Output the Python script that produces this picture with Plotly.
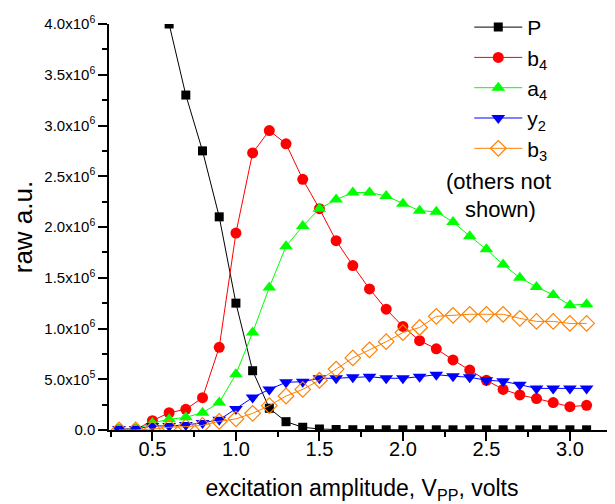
import plotly.graph_objects as go

x_all = [0.3, 0.4, 0.5, 0.6, 0.7, 0.8, 0.9, 1.0, 1.1, 1.2, 1.3, 1.4, 1.5, 1.6, 1.7,
         1.8, 1.9, 2.0, 2.1, 2.2, 2.3, 2.4, 2.5, 2.6, 2.7, 2.8, 2.9, 3.0, 3.1]

x_P = x_all[3:]
P = [4.0e6, 3.30e6, 2.75e6, 2.10e6, 1.25e6, 0.584e6, 0.214e6, 0.082e6, 0.027e6, 0.01e6,
     0.005e6, 0.003e6, 0.002e6, 0.002e6, 0.002e6, 0.002e6, 0.002e6, 0.002e6, 0.002e6,
     0.002e6, 0.002e6, 0.002e6, 0.002e6, 0.002e6, 0.002e6, 0.002e6]

b4 = [0.005e6, 0.005e6, 0.092e6, 0.17e6, 0.204e6, 0.318e6, 0.815e6, 1.94e6, 2.73e6, 2.95e6,
      2.82e6, 2.47e6, 2.18e6, 1.865e6, 1.62e6, 1.39e6, 1.19e6, 1.02e6, 0.88e6, 0.80e6,
      0.69e6, 0.59e6, 0.49e6, 0.40e6, 0.345e6, 0.31e6, 0.27e6, 0.23e6, 0.243e6]

a4 = [0.01e6, 0.01e6, 0.07e6, 0.105e6, 0.125e6, 0.17e6, 0.27e6, 0.55e6, 0.96e6, 1.405e6,
      1.81e6, 2.01e6, 2.18e6, 2.27e6, 2.34e6, 2.34e6, 2.305e6, 2.23e6, 2.16e6, 2.15e6,
      2.05e6, 1.91e6, 1.78e6, 1.63e6, 1.50e6, 1.41e6, 1.33e6, 1.23e6, 1.24e6]

y2 = [0.01e6, 0.01e6, 0.04e6, 0.04e6, 0.05e6, 0.07e6, 0.10e6, 0.207e6, 0.32e6, 0.40e6,
      0.47e6, 0.476e6, 0.51e6, 0.51e6, 0.52e6, 0.525e6, 0.51e6, 0.51e6, 0.525e6, 0.545e6,
      0.53e6, 0.52e6, 0.49e6, 0.48e6, 0.446e6, 0.41e6, 0.41e6, 0.41e6, 0.41e6]

b3 = [0.0, 0.0, 0.01e6, 0.027e6, 0.033e6, 0.046e6, 0.085e6, 0.11e6, 0.164e6, 0.24e6,
      0.335e6, 0.40e6, 0.49e6, 0.60e6, 0.71e6, 0.79e6, 0.87e6, 0.96e6, 1.01e6, 1.12e6,
      1.13e6, 1.14e6, 1.14e6, 1.14e6, 1.10e6, 1.07e6, 1.07e6, 1.05e6, 1.05e6]

y_tickvals = [0, 0.5e6, 1.0e6, 1.5e6, 2.0e6, 2.5e6, 3.0e6, 3.5e6, 4.0e6]
y_ticktext = ["0.0", "5.0x10<sup>5</sup>", "1.0x10<sup>6</sup>", "1.5x10<sup>6</sup>",
              "2.0x10<sup>6</sup>", "2.5x10<sup>6</sup>", "3.0x10<sup>6</sup>",
              "3.5x10<sup>6</sup>", "4.0x10<sup>6</sup>"]
x_tickvals = [0.5, 1.0, 1.5, 2.0, 2.5, 3.0]
x_ticktext = ["0.5", "1.0", "1.5", "2.0", "2.5", "3.0"]

FONT = "Liberation Sans, Arial, Helvetica, sans-serif"
X_RANGE = [0.24, 3.27]

fig = go.Figure()
series = [
    ("P", x_P, P, "#000000", dict(symbol="square", size=9, color="#000000")),
    ("b<sub>4</sub>", x_all, b4, "#FF0000", dict(symbol="circle", size=11, color="#FF0000")),
    ("a<sub>4</sub>", x_all, a4, "#00FF00", dict(symbol="triangle-up", size=12, color="#00FF00")),
    ("y<sub>2</sub>", x_all, y2, "#0000FF", dict(symbol="triangle-down", size=12, color="#0000FF")),
    ("b<sub>3</sub>", x_all, b3, "#FF8000", dict(symbol="diamond-open", size=12, color="#FF8000",
                                                  line=dict(width=1.2))),
]
for i, (name, xs, ys, col, mk) in enumerate(series):
    fig.add_trace(go.Scatter(
        x=xs, y=ys, name=name, mode="lines+markers",
        line=dict(color=col, width=1), marker=mk,
        legendgroup=f"g{i}", cliponaxis=True,
    ))

# invisible helper trace so the label-only overlay axis is drawn
fig.add_trace(go.Scatter(
    x=x_tickvals, y=[0] * len(x_tickvals), xaxis="x2", yaxis="y",
    mode="markers", marker=dict(opacity=0), showlegend=False, hoverinfo="skip",
))

fig.add_annotation(
    x=0.770, y=0.613, xref="paper", yref="paper", xanchor="center", yanchor="middle",
    text="(others not", showarrow=False,
    font=dict(family=FONT, size=22, color="black"),
)
fig.add_annotation(
    x=0.773, y=0.542, xref="paper", yref="paper", xanchor="center", yanchor="middle",
    text="shown)", showarrow=False,
    font=dict(family=FONT, size=22, color="black"),
)

fig.update_layout(
    width=607, height=496,
    margin=dict(l=101, r=0, t=16, b=74, autoexpand=False),
    paper_bgcolor="white", plot_bgcolor="white",
    font=dict(family=FONT, color="black"),
    showlegend=True,
    legend=dict(
        x=0.712, y=1.042, xanchor="left", yanchor="top",
        bgcolor="rgba(0,0,0,0)", borderwidth=0,
        font=dict(family=FONT, size=21, color="black"),
        tracegroupgap=0, itemwidth=48,
    ),
    xaxis=dict(
        range=X_RANGE, showgrid=False, zeroline=False,
        showline=True, linecolor="black", linewidth=1.5,
        ticks="outside", ticklen=9, tickwidth=1.5, tickcolor="black",
        tickvals=x_tickvals, showticklabels=False,
        minor=dict(ticks="outside", ticklen=5, tickwidth=1.5, tickcolor="black", dtick=0.25, tick0=0.25),
        title=dict(text="excitation amplitude, V<sub>PP</sub>, volts",
                   font=dict(family=FONT, size=23), standoff=48),
        automargin=False,
    ),
    xaxis2=dict(
        range=X_RANGE, overlaying="x", anchor="free", position=0, side="bottom",
        showgrid=False, zeroline=False, showline=False, ticks="",
        tickvals=x_tickvals, ticktext=x_ticktext, showticklabels=True,
        tickfont=dict(family=FONT, size=20), ticklabelstandoff=5,
        automargin=False,
    ),
    yaxis=dict(
        range=[0, 4.0e6], showgrid=False, zeroline=False,
        showline=True, linecolor="black", linewidth=1.5,
        ticks="outside", ticklen=9, tickwidth=1.5, tickcolor="black",
        tickvals=y_tickvals, ticktext=y_ticktext,
        tickfont=dict(family=FONT, size=15),
        minor=dict(ticks="outside", ticklen=5, tickwidth=1.5, tickcolor="black", dtick=0.25e6, tick0=0),
        title=dict(text="raw a.u.", font=dict(family=FONT, size=26), standoff=8),
        automargin=False,
    ),
)

fig.write_html("out.html")
